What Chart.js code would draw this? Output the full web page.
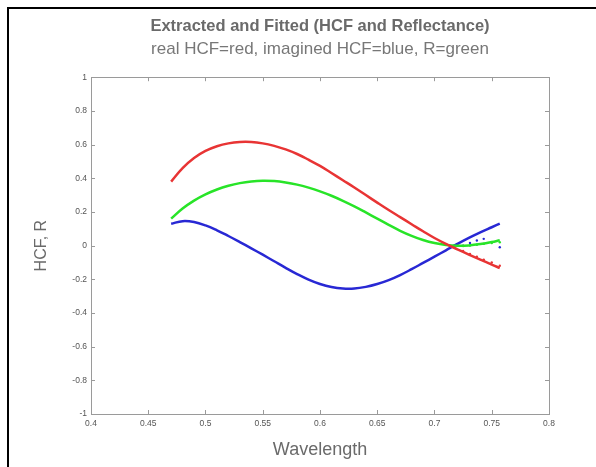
<!DOCTYPE html>
<html>
<head>
<meta charset="utf-8">
<script src="https://cdn.jsdelivr.net/npm/chart.js@4/dist/chart.umd.min.js"></script>
<style>
  html, body { margin: 0; padding: 0; width: 596px; height: 467px; overflow: hidden; background: #fff; }
  #frame { position: absolute; left: 7px; top: 7px; width: 700px; height: 700px;
    border-left: 2px solid #000; border-top: 2px solid #000; }
  #wrap { position: absolute; left: 30px; top: 0; width: 580px; height: 467px; }
</style>
</head>
<body>
<div id="frame"></div>
<div id="wrap"><canvas id="chart" width="580" height="467"></canvas></div>
<script>
// fitted curves
const wavelength = [0.47, 0.48, 0.49, 0.50, 0.51, 0.52, 0.53, 0.54, 0.55, 0.56, 0.57, 0.58, 0.59, 0.60, 0.61,
  0.62, 0.63, 0.64, 0.65, 0.66, 0.67, 0.68, 0.69, 0.70, 0.71, 0.72, 0.73, 0.74, 0.75, 0.757];
const realHCF = [0.38, 0.46, 0.52, 0.562, 0.59, 0.607, 0.615, 0.615, 0.607, 0.592, 0.571, 0.544, 0.51, 0.473, 0.431,
  0.388, 0.345, 0.3, 0.255, 0.211, 0.169, 0.127, 0.085, 0.045, 0.01, -0.022, -0.053, -0.083, -0.113, -0.133];
const reflectance = [0.16, 0.22, 0.267, 0.304, 0.333, 0.355, 0.371, 0.381, 0.385, 0.383, 0.375, 0.362, 0.344, 0.322, 0.296,
  0.266, 0.233, 0.197, 0.16, 0.123, 0.088, 0.058, 0.033, 0.015, 0.004, -0.001, 0.001, 0.009, 0.021, 0.032];
const imagHCF = [0.13, 0.145, 0.14, 0.12, 0.091, 0.057, 0.021, -0.016, -0.054, -0.093, -0.132, -0.169, -0.202, -0.228, -0.246,
  -0.255, -0.255, -0.245, -0.228, -0.205, -0.175, -0.14, -0.103, -0.066, -0.028, 0.01, 0.046, 0.079, 0.109, 0.13];

// extracted points (only visible where they leave the fit)
const extWavelength = [0.725, 0.731, 0.737, 0.743, 0.750, 0.757];
const extReal = [-0.032, -0.05, -0.066, -0.083, -0.1, -0.12];
const extImag = [0.0, 0.015, 0.03, 0.04, 0.02, -0.01];
const extR = [-0.002, 0.0, 0.005, 0.01, 0.015, 0.02];

const xTicks = [0.4, 0.45, 0.5, 0.55, 0.6, 0.65, 0.7, 0.75, 0.8];
const yTicks = [-1, -0.8, -0.6, -0.4, -0.2, 0, 0.2, 0.4, 0.6, 0.8, 1];

const RED = 'rgb(232, 52, 52)';
const GREEN = 'rgb(40, 228, 40)';
const BLUE = 'rgb(40, 40, 212)';

const toPoints = (xs, ys) => xs.map((x, i) => ({ x, y: ys[i] }));

const fitted = (label, ys, color) => ({
  label,
  data: toPoints(wavelength, ys),
  showLine: true,
  borderColor: color,
  borderWidth: 2.5,
  pointRadius: 0,
  tension: 0.4,
});

const extracted = (label, ys, color) => ({
  label,
  data: toPoints(extWavelength, ys),
  showLine: false,
  pointRadius: 1.2,
  pointBackgroundColor: color,
  pointBorderWidth: 0,
});

// box around the plot with inward tick marks, matlab style
const boxPlugin = {
  id: 'box',
  afterDraw(chart) {
    const { ctx, chartArea: a, scales } = chart;
    ctx.save();
    ctx.strokeStyle = '#9a9a9a';
    ctx.lineWidth = 1;
    ctx.strokeRect(Math.round(a.left) + 0.5, Math.round(a.top) + 0.5,
      Math.round(a.right - a.left), Math.round(a.bottom - a.top));
    ctx.beginPath();
    xTicks.forEach((v) => {
      const px = Math.round(scales.x.getPixelForValue(v)) + 0.5;
      ctx.moveTo(px, a.bottom); ctx.lineTo(px, a.bottom - 4);
      ctx.moveTo(px, a.top); ctx.lineTo(px, a.top + 4);
    });
    yTicks.forEach((v) => {
      const py = Math.round(scales.y.getPixelForValue(v)) + 0.5;
      ctx.moveTo(a.left, py); ctx.lineTo(a.left + 4, py);
      ctx.moveTo(a.right, py); ctx.lineTo(a.right - 4, py);
    });
    ctx.stroke();
    ctx.restore();
  },
};

const fmt = (v) => String(Math.round(v * 100) / 100);
const tickFont = { family: 'Liberation Sans, Arial', size: 8.5 };

new Chart(document.querySelector('#chart'), {
  type: 'scatter',
  data: {
    datasets: [
      fitted('real HCF', realHCF, RED),
      fitted('R', reflectance, GREEN),
      fitted('imagined HCF', imagHCF, BLUE),
      extracted('real HCF extracted', extReal, RED),
      extracted('R extracted', extR, GREEN),
      extracted('imagined HCF extracted', extImag, BLUE),
    ],
  },
  plugins: [boxPlugin],
  options: {
    responsive: false,
    animation: false,
    layout: { padding: 0 },
    plugins: {
      legend: { display: false },
      tooltip: { enabled: false },
      title: {
        display: true,
        text: 'Extracted and Fitted (HCF and Reflectance)',
        color: '#6a6a6a',
        font: { family: 'Liberation Sans, Arial', size: 16.5, weight: 'bold' },
        padding: { top: 17, bottom: 2 },
      },
      subtitle: {
        display: true,
        text: 'real HCF=red, imagined HCF=blue, R=green',
        color: '#777',
        font: { family: 'Liberation Sans, Arial', size: 17 },
        padding: { top: 0, bottom: 18 },
      },
    },
    scales: {
      x: {
        type: 'linear',
        min: 0.4,
        max: 0.8,
        afterBuildTicks: (s) => { s.ticks = xTicks.map((value) => ({ value })); },
        afterFit: (s) => { s.height = 53; },
        grid: { display: false, drawTicks: false },
        border: { display: false },
        ticks: { callback: fmt, color: '#555', font: tickFont, padding: 5, autoSkip: false, maxRotation: 0 },
        title: {
          display: true,
          text: 'Wavelength',
          color: '#6a6a6a',
          font: { family: 'Liberation Sans, Arial', size: 18 },
          padding: { top: 0, bottom: 6 },
        },
      },
      y: {
        min: -1,
        max: 1,
        afterBuildTicks: (s) => { s.ticks = yTicks.map((value) => ({ value })); },
        afterFit: (s) => { s.width = 61; },
        grid: { display: false, drawTicks: false },
        border: { display: false },
        ticks: { callback: fmt, color: '#555', font: tickFont, padding: 4, autoSkip: false },
        title: {
          display: true,
          text: 'HCF, R',
          color: '#6a6a6a',
          font: { family: 'Liberation Sans, Arial', size: 16 },
          padding: { top: 2, bottom: 0 },
        },
      },
      y2: {
        position: 'right',
        min: -1,
        max: 1,
        afterFit: (s) => { s.width = 61; },
        grid: { display: false, drawTicks: false },
        border: { display: false },
        ticks: { display: false },
      },
    },
  },
});
</script>
</body>
</html>
